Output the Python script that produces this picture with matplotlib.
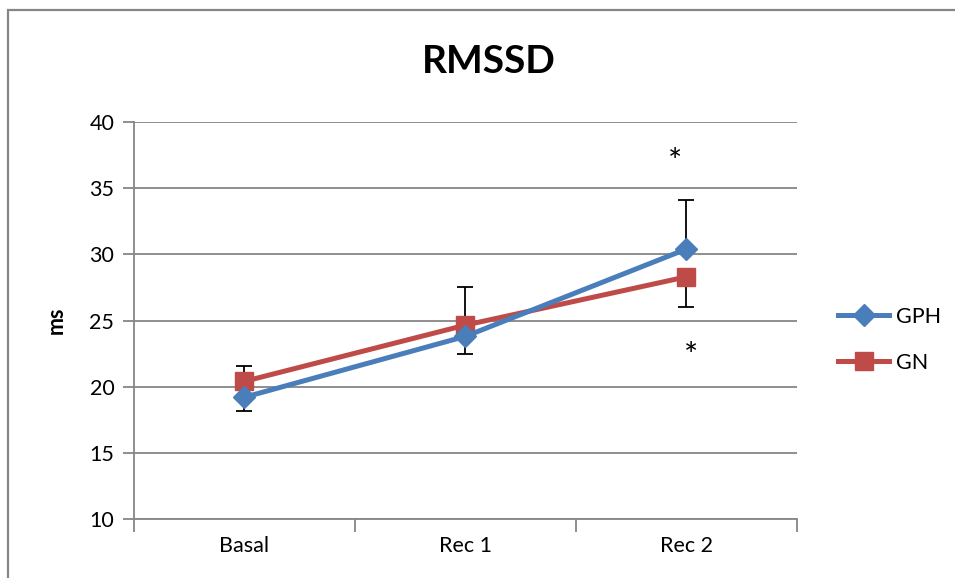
import matplotlib
matplotlib.use("Agg")
import matplotlib.pyplot as plt
from matplotlib.patches import Rectangle

plt.rcParams['font.family'] = ['Lato', 'DejaVu Sans']

categories = ["Basal", "Rec 1", "Rec 2"]
gph_values = [19.2, 23.8, 30.4]
gph_err_low = [1.05, 1.3, 0.0]
gph_err_high = [0.0, 0.0, 3.7]
gn_values = [20.4, 24.65, 28.3]
gn_err_low = [0.0, 0.0, 2.3]
gn_err_high = [1.15, 2.85, 0.0]
star_positions = [(2.95, 37.5), (3.02, 22.9)]
y_ticks = [10, 15, 20, 25, 30, 35, 40]

blue = "#4A7EBB"
red = "#BE4B48"
grid_col = "#868686"

fig = plt.figure(figsize=(9.55, 5.78), dpi=100)
ax = fig.add_axes([0.140, 0.102, 0.6946, 0.687])

x = list(range(1, len(categories) + 1))

# error bars (single-sided)
ax.errorbar(x, gph_values, yerr=[gph_err_low, gph_err_high], fmt='none',
            ecolor='black', elinewidth=1.3, capsize=6, capthick=1.3, zorder=2)
ax.errorbar(x, gn_values, yerr=[gn_err_low, gn_err_high], fmt='none',
            ecolor='black', elinewidth=1.3, capsize=6, capthick=1.3, zorder=2)

ax.plot(x, gph_values, color=blue, lw=3.6, marker='D', markersize=11,
        markeredgecolor=blue, label="GPH", zorder=4)
ax.plot(x, gn_values, color=red, lw=3.6, marker='s', markersize=13,
        markeredgecolor=red, label="GN", zorder=3)

for sx, sy in star_positions:
    ax.annotate("*", (sx, sy), xytext=(0, -6), textcoords='offset points',
                ha='center', va='center', fontsize=24, color='black')

ax.set_xlim(0.5, 3.5)
ax.set_ylim(10, 40)
ax.set_yticks(y_ticks)
ax.set_xticks(x)
ax.set_xticklabels(categories)
ax.set_xticks([0.5, 1.5, 2.5, 3.5], minor=True)
ax.tick_params(axis='x', which='major', length=0, pad=12, labelsize=15.5)
ax.tick_params(axis='x', which='minor', length=9, width=1.3, color=grid_col)
ax.tick_params(axis='y', length=8, width=1.3, color=grid_col, pad=6, labelsize=15.5)

ax.yaxis.grid(True, color=grid_col, lw=1.3)
ax.set_axisbelow(True)
for side in ['top', 'right']:
    ax.spines[side].set_visible(False)
for side in ['left', 'bottom']:
    ax.spines[side].set_color(grid_col)
    ax.spines[side].set_linewidth(1.3)

ax.set_ylabel("ms", fontsize=15.5, fontweight='bold', labelpad=16)
fig.text(0.512, 0.893, "RMSSD", ha='center', va='center', fontsize=28, fontweight='bold')

leg = fig.legend(loc='center left', bbox_to_anchor=(0.857, 0.412), frameon=False,
                 fontsize=15.5, handlelength=2.4, labelspacing=1.2, handletextpad=0.3)

# outer chart border
fig.patches.append(Rectangle((8 / 955, -0.05), 1.1, 1.05 - 10 / 578,
                             transform=fig.transFigure, fill=False,
                             edgecolor=grid_col, lw=1.6))

fig.savefig("out.png", dpi=100)
